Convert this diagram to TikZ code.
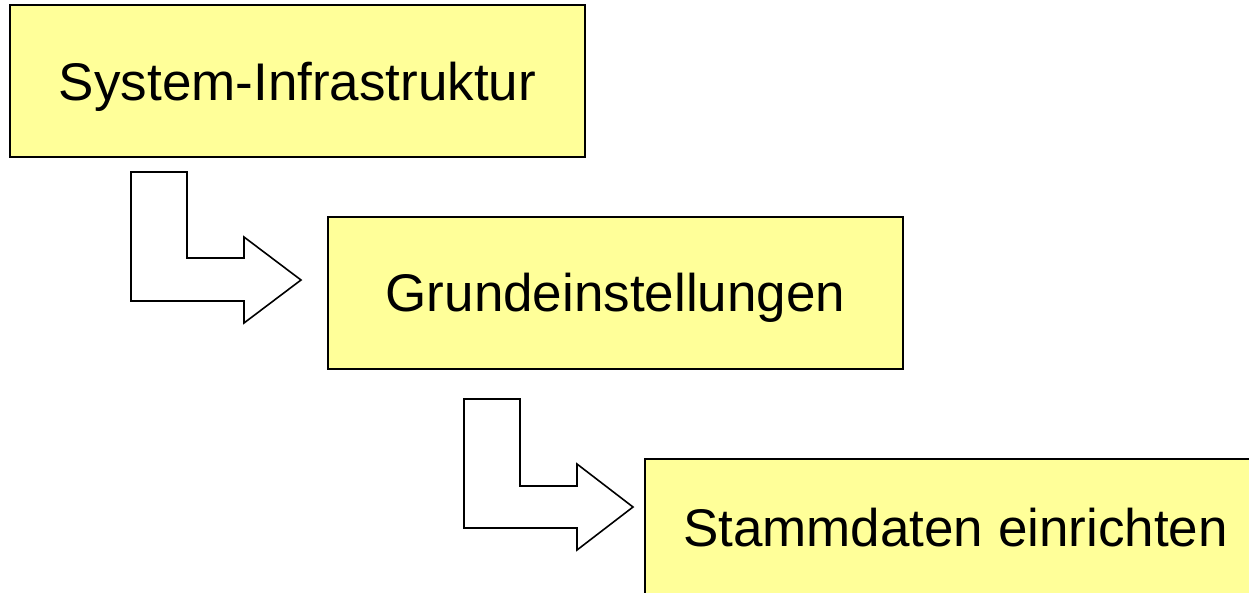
\documentclass[tikz,border=0pt]{standalone}
\usepackage{fontspec}
\setmainfont{Liberation Sans}
\definecolor{boxyellow}{RGB}{255,255,153}
\begin{document}
\begin{tikzpicture}[x=1pt,y=-1pt,
  stepbox/.style={draw=black,line width=1.6pt,fill=boxyellow},
  bentarrow/.style={draw=black,line width=1.6pt,fill=white,line join=miter},
  lbl/.style={font=\fontsize{53}{60}\selectfont,inner sep=0pt,anchor=base}]
\useasboundingbox (0,0) rectangle (1249,592);
\begin{scope}
\clip (0,0) rectangle (1249,592);
% boxes
\draw[stepbox] (10,5) rectangle (585,157);
\node[lbl] (t1) at (297.5,100) {System-Infrastruktur};
\draw[stepbox] (328,217) rectangle (903,369);
\node[lbl] (t2) at (615.5,311) {Grundeinstellungen};
\draw[stepbox] (645,459) rectangle (1266,611);
\node[lbl] (t3) at (955.5,546) {Stammdaten einrichten};
% bent arrows
\draw[bentarrow] (131,172) -- (187,172) -- (187,258) -- (244,258) -- (244,237)
  -- (301,280) -- (244,323) -- (244,301) -- (131,301) -- cycle;
\draw[bentarrow] (464,399) -- (520,399) -- (520,486) -- (577,486) -- (577,464)
  -- (633,507) -- (577,550) -- (577,528) -- (464,528) -- cycle;
\end{scope}
\end{tikzpicture}
\end{document}
